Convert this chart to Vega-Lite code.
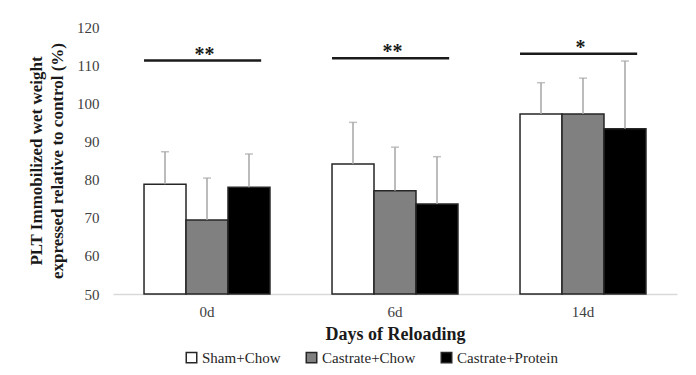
{
  "$schema": "https://vega.github.io/schema/vega-lite/v6.json",
  "width": 564,
  "height": 267,
  "autosize": "none",
  "padding": {"left": 113, "top": 27, "right": 19, "bottom": 81},
  "background": "white",
  "config": {
    "view": {"stroke": null},
    "font": "Liberation Serif",
    "style": {
      "guide-label": {"font": "Liberation Serif", "fontSize": 15, "fill": "#404040"},
      "guide-title": {"font": "Liberation Serif", "fontSize": 17, "fontWeight": "bold", "fill": "#1a1a1a"}
    },
    "axis": {"labelFont": "Liberation Serif", "titleFont": "Liberation Serif", "labelFontSize": 15, "labelColor": "#404040", "titleFontSize": 17, "titleFontWeight": "bold", "titleColor": "#1a1a1a", "labelOverlap": false},
    "legend": {"labelFont": "Liberation Serif", "labelFontSize": 15, "labelColor": "#262626"},
    "text": {"font": "Liberation Serif"}
  },
  "datasets": {
    "bars": [
      {"day": "0d", "group": "Sham+Chow", "mean": 78.8, "upper": 87.3},
      {"day": "0d", "group": "Castrate+Chow", "mean": 69.4, "upper": 80.4},
      {"day": "0d", "group": "Castrate+Protein", "mean": 78.0, "upper": 86.7},
      {"day": "6d", "group": "Sham+Chow", "mean": 84.1, "upper": 95.0},
      {"day": "6d", "group": "Castrate+Chow", "mean": 77.1, "upper": 88.5},
      {"day": "6d", "group": "Castrate+Protein", "mean": 73.6, "upper": 86.0},
      {"day": "14d", "group": "Sham+Chow", "mean": 97.2, "upper": 105.4},
      {"day": "14d", "group": "Castrate+Chow", "mean": 97.2, "upper": 106.6},
      {"day": "14d", "group": "Castrate+Protein", "mean": 93.3, "upper": 111.1}
    ],
    "sig": [
      {"day": "0d", "y": 111.2, "label": "**"},
      {"day": "6d", "y": 111.8, "label": "**"},
      {"day": "14d", "y": 113.0, "label": "*"}
    ]
  },
  "layer": [
    {
      "data": {"name": "bars"},
      "mark": {"type": "bar", "stroke": "#262626", "strokeWidth": 1.5, "clip": false},
      "encoding": {
        "x": {
          "field": "day", "type": "nominal", "sort": ["0d", "6d", "14d"],
          "scale": {"paddingInner": 0.33, "paddingOuter": 0.165},
          "axis": {"title": "Days of Reloading", "labelAngle": 0, "ticks": false, "domainColor": "#d9d9d9", "domainWidth": 1.5, "labelFont": "Liberation Serif", "labelFontSize": 15, "labelColor": "#404040", "labelPadding": 10, "titleFontSize": 18, "titlePadding": 6}
        },
        "xOffset": {
          "field": "group", "type": "nominal",
          "sort": ["Sham+Chow", "Castrate+Chow", "Castrate+Protein"],
          "scale": {"paddingInner": 0, "paddingOuter": 0}
        },
        "y": {
          "field": "mean", "type": "quantitative",
          "scale": {"domain": [50, 120], "zero": false, "nice": false},
          "axis": {"values": [50, 60, 70, 80, 90, 100, 110, 120], "labelOverlap": false, "grid": false, "domain": false, "ticks": false, "labelPadding": 14, "labelFont": "Liberation Serif", "labelFontSize": 15, "labelColor": "#404040", "title": ["PLT Immobilized wet weight", "expressed relative to control (%)"], "titleFont": "Liberation Serif", "titleFontSize": 17, "titleFontWeight": "bold", "titleLineHeight": 21, "titlePadding": 10}
        },
        "y2": {"datum": 50},
        "fill": {
          "field": "group", "type": "nominal",
          "sort": ["Sham+Chow", "Castrate+Chow", "Castrate+Protein"],
          "scale": {"domain": ["Sham+Chow", "Castrate+Chow", "Castrate+Protein"], "range": ["#ffffff", "#808080", "#000000"]},
          "legend": {
            "title": null, "orient": "none", "direction": "horizontal",
            "legendX": 71, "legendY": 323,
            "symbolType": "square", "symbolSize": 110, "symbolStrokeColor": "#262626", "symbolStrokeWidth": 1.5,
            "labelFont": "Liberation Serif", "labelFontSize": 15, "labelColor": "#262626",
            "labelOffset": 3, "columnPadding": 22
          }
        }
      }
    },
    {
      "data": {"name": "bars"},
      "mark": {"type": "rule", "color": "#a6a6a6", "strokeWidth": 1.5},
      "encoding": {
        "x": {
          "field": "day", "type": "nominal", "sort": ["0d", "6d", "14d"],
          "axis": {"title": "Days of Reloading", "labelAngle": 0, "ticks": false, "domainColor": "#d9d9d9", "domainWidth": 1.5, "labelFont": "Liberation Serif", "labelFontSize": 15, "labelColor": "#404040", "labelPadding": 10, "titleFontSize": 18, "titlePadding": 6}
        },
        "xOffset": {"field": "group", "type": "nominal", "sort": ["Sham+Chow", "Castrate+Chow", "Castrate+Protein"]},
        "y": {
          "field": "mean", "type": "quantitative",
          "axis": {"values": [50, 60, 70, 80, 90, 100, 110, 120], "labelOverlap": false, "grid": false, "domain": false, "ticks": false, "labelPadding": 14, "labelFont": "Liberation Serif", "labelFontSize": 15, "labelColor": "#404040", "title": ["PLT Immobilized wet weight", "expressed relative to control (%)"], "titleFont": "Liberation Serif", "titleFontSize": 17, "titleFontWeight": "bold", "titleLineHeight": 21, "titlePadding": 10}
        },
        "y2": {"field": "upper"}
      }
    },
    {
      "data": {"name": "bars"},
      "mark": {"type": "tick", "color": "#a6a6a6", "size": 8, "thickness": 1.5},
      "encoding": {
        "x": {
          "field": "day", "type": "nominal", "sort": ["0d", "6d", "14d"],
          "axis": {"title": "Days of Reloading", "labelAngle": 0, "ticks": false, "domainColor": "#d9d9d9", "domainWidth": 1.5, "labelFont": "Liberation Serif", "labelFontSize": 15, "labelColor": "#404040", "labelPadding": 10, "titleFontSize": 18, "titlePadding": 6}
        },
        "xOffset": {"field": "group", "type": "nominal", "sort": ["Sham+Chow", "Castrate+Chow", "Castrate+Protein"]},
        "y": {
          "field": "upper", "type": "quantitative",
          "axis": {"values": [50, 60, 70, 80, 90, 100, 110, 120], "labelOverlap": false, "grid": false, "domain": false, "ticks": false, "labelPadding": 14, "labelFont": "Liberation Serif", "labelFontSize": 15, "labelColor": "#404040", "title": ["PLT Immobilized wet weight", "expressed relative to control (%)"], "titleFont": "Liberation Serif", "titleFontSize": 17, "titleFontWeight": "bold", "titleLineHeight": 21, "titlePadding": 10}
        }
      }
    },
    {
      "data": {"name": "sig"},
      "mark": {"type": "rule", "color": "#1a1a1a", "strokeWidth": 2.5},
      "encoding": {
        "x": {
          "field": "day", "type": "nominal", "sort": ["0d", "6d", "14d"], "bandPosition": 0,
          "axis": {"title": "Days of Reloading", "labelAngle": 0, "ticks": false, "domainColor": "#d9d9d9", "domainWidth": 1.5, "labelFont": "Liberation Serif", "labelFontSize": 15, "labelColor": "#404040", "labelPadding": 10, "titleFontSize": 18, "titlePadding": 6}
        },
        "x2": {"field": "day", "bandPosition": 0.93},
        "y": {
          "field": "y", "type": "quantitative",
          "axis": {"values": [50, 60, 70, 80, 90, 100, 110, 120], "labelOverlap": false, "grid": false, "domain": false, "ticks": false, "labelPadding": 14, "labelFont": "Liberation Serif", "labelFontSize": 15, "labelColor": "#404040", "title": ["PLT Immobilized wet weight", "expressed relative to control (%)"], "titleFont": "Liberation Serif", "titleFontSize": 17, "titleFontWeight": "bold", "titleLineHeight": 21, "titlePadding": 10}
        }
      }
    },
    {
      "data": {"name": "sig"},
      "mark": {"type": "text", "font": "Liberation Serif", "fontSize": 20, "fontWeight": "bold", "color": "#1a1a1a", "baseline": "alphabetic", "dy": 0},
      "encoding": {
        "x": {
          "field": "day", "type": "nominal", "sort": ["0d", "6d", "14d"], "bandPosition": 0.48,
          "axis": {"title": "Days of Reloading", "labelAngle": 0, "ticks": false, "domainColor": "#d9d9d9", "domainWidth": 1.5, "labelFont": "Liberation Serif", "labelFontSize": 15, "labelColor": "#404040", "labelPadding": 10, "titleFontSize": 18, "titlePadding": 6}
        },
        "y": {
          "field": "y", "type": "quantitative",
          "axis": {"values": [50, 60, 70, 80, 90, 100, 110, 120], "labelOverlap": false, "grid": false, "domain": false, "ticks": false, "labelPadding": 14, "labelFont": "Liberation Serif", "labelFontSize": 15, "labelColor": "#404040", "title": ["PLT Immobilized wet weight", "expressed relative to control (%)"], "titleFont": "Liberation Serif", "titleFontSize": 17, "titleFontWeight": "bold", "titleLineHeight": 21, "titlePadding": 10}
        },
        "text": {"field": "label"}
      }
    }
  ]
}
